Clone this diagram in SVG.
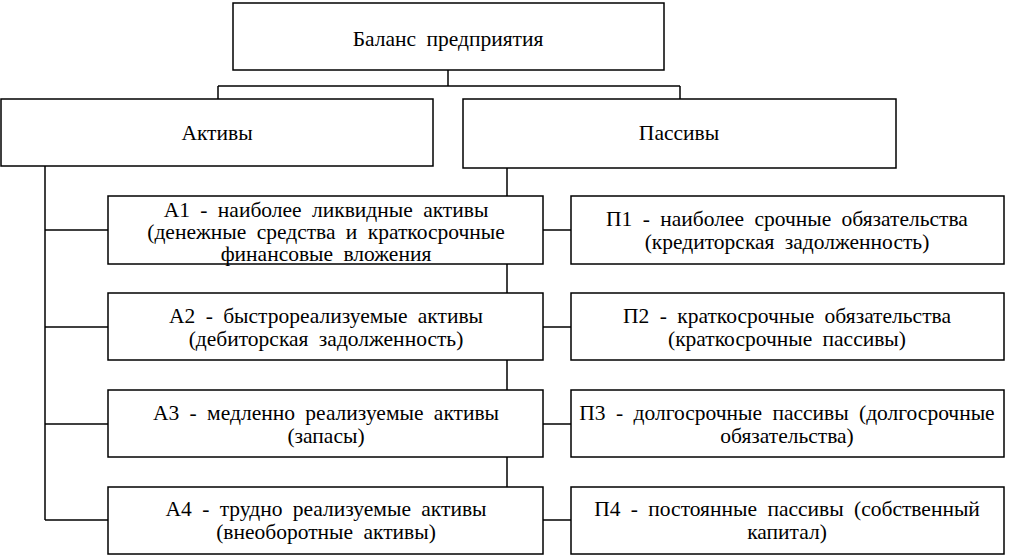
<svg xmlns="http://www.w3.org/2000/svg" width="1009" height="558" viewBox="0 0 1009 558">
<style>
rect{fill:#fff;stroke:#000;stroke-width:1.5}
line{stroke:#000;stroke-width:1.5}
text{font-family:'Liberation Serif','Times New Roman',serif;font-size:21.5px;word-spacing:5px;text-anchor:middle;fill:#000}
</style>
<rect x="0" y="0" width="1009" height="558" style="fill:#fff;stroke:none"/>
<g id="connectors">
<line x1="448" y1="70" x2="448" y2="86"/>
<line x1="218" y1="86" x2="680" y2="86"/>
<line x1="218" y1="86" x2="218" y2="99"/>
<line x1="680" y1="86" x2="680" y2="99"/>
<line x1="45" y1="166" x2="45" y2="520"/>
<line x1="45" y1="230" x2="108" y2="230"/>
<line x1="45" y1="327" x2="108" y2="327"/>
<line x1="45" y1="424" x2="108" y2="424"/>
<line x1="45" y1="520" x2="108" y2="520"/>
<line x1="507" y1="168" x2="507" y2="487"/>
<line x1="543" y1="230" x2="571" y2="230"/>
<line x1="543" y1="327" x2="571" y2="327"/>
<line x1="543" y1="424" x2="571" y2="424"/>
<line x1="543" y1="520" x2="571" y2="520"/>
</g>
<g id="top"><rect x="233" y="3" width="431" height="67"/><text x="448" y="46">Баланс предприятия</text></g>
<g id="assets"><rect x="1" y="99" width="432" height="67"/><text x="217" y="140">Активы</text></g>
<g id="liabilities"><rect x="463" y="99" width="433" height="69"/><text x="679" y="140">Пассивы</text></g>
<g id="a1"><rect x="108" y="196" width="435" height="68"/><text x="326" y="217">А1 - наиболее ликвидные активы</text><text x="326" y="239">(денежные средства и краткосрочные</text><text x="326" y="261">финансовые вложения</text></g>
<g id="a2"><rect x="108" y="293" width="435" height="67"/><text x="326" y="323">А2 - быстрореализуемые активы</text><text x="326" y="346">(дебиторская задолженность)</text></g>
<g id="a3"><rect x="108" y="390" width="435" height="67"/><text x="326" y="420">А3 - медленно реализуемые активы</text><text x="326" y="443">(запасы)</text></g>
<g id="a4"><rect x="108" y="487" width="435" height="67"/><text x="326" y="516">А4 - трудно реализуемые активы</text><text x="326" y="539">(внеоборотные активы)</text></g>
<g id="p1"><rect x="571" y="196" width="433" height="68"/><text x="787" y="226">П1 - наиболее срочные обязательства</text><text x="787" y="249">(кредиторская задолженность)</text></g>
<g id="p2"><rect x="571" y="293" width="433" height="67"/><text x="787" y="323">П2 - краткосрочные обязательства</text><text x="787" y="346">(краткосрочные пассивы)</text></g>
<g id="p3"><rect x="571" y="390" width="433" height="67"/><text x="787" y="420">П3 - долгосрочные пассивы (долгосрочные</text><text x="787" y="443">обязательства)</text></g>
<g id="p4"><rect x="571" y="487" width="433" height="67"/><text x="787" y="516">П4 - постоянные пассивы (собственный</text><text x="787" y="539">капитал)</text></g>
</svg>
